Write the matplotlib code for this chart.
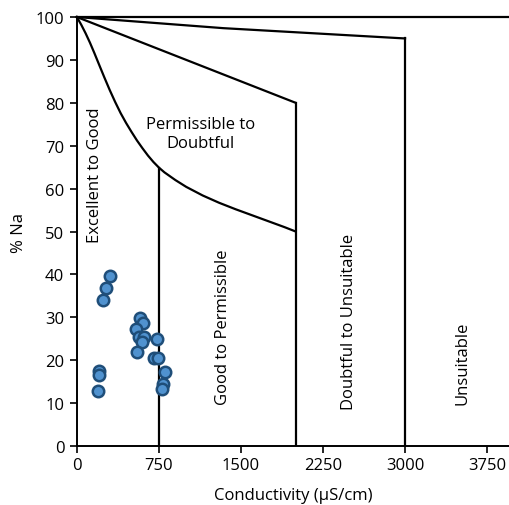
import matplotlib.pyplot as plt

# --- Daten ---
cond = [303, 263, 241, 202, 202, 190, 578, 608, 541, 571, 614, 593, 553,
        731, 706, 745, 807, 791, 782]
na = [39.7, 36.8, 34.0, 17.4, 16.5, 12.8, 29.8, 28.7, 27.3, 25.3, 25.3, 24.2,
      21.8, 24.9, 20.6, 20.6, 17.2, 14.5, 13.3]

# Grenzkurven (Wilcox-Diagramm)
curve1_x = [0, 40, 80, 120, 160, 200, 250, 300, 350, 400, 450, 500, 550, 600,
            650, 700, 750, 800, 900, 1000, 1150, 1300, 1450, 1600, 1750, 1900, 2000]
curve1_y = [100, 98.2, 96.2, 94.0, 91.6, 89.1, 86.0, 83.0, 80.2, 77.6, 75.3,
            73.2, 71.2, 69.4, 67.7, 66.2, 64.9, 63.8, 62.0, 60.4, 58.4, 56.7,
            55.2, 53.8, 52.4, 51.0, 50.0]
curve2_x = [0, 2000]
curve2_y = [100, 80]
curve3_x = [0, 1340, 3000]
curve3_y = [100, 97.4, 95]

xticks = [0, 750, 1500, 2250, 3000, 3750]
yticks = list(range(0, 101, 10))

plt.rcParams['font.family'] = ['Open Sans', 'DejaVu Sans']

fig = plt.figure(figsize=(5.09, 5.06), dpi=100)
ax = fig.add_axes([0.151, 0.1166, 0.849, 0.8478])

lw = 1.6
for cx, cy in [(curve1_x, curve1_y), (curve2_x, curve2_y), (curve3_x, curve3_y)]:
    ax.plot(cx, cy, color='black', lw=lw, clip_on=False, solid_joinstyle='round')
ax.plot([0, 4000], [100, 100], color='black', lw=lw, clip_on=False)
ax.plot([750, 750], [0, 64.9], color='black', lw=lw)
ax.plot([2000, 2000], [0, 80], color='black', lw=lw)
ax.plot([3000, 3000], [0, 95], color='black', lw=lw)

ax.scatter(cond, na, s=68, facecolor='#5092CF', edgecolor='#1F4E79',
           linewidth=1.8, zorder=5)

fs = 12
ax.text(165, 63.4, 'Excellent to Good', rotation=90, ha='center', va='center', fontsize=fs)
ax.text(1128, 72.8, 'Permissible to\nDoubtful', ha='center', va='center', fontsize=fs,
        linespacing=1.25)
ax.text(1336, 27.9, 'Good to Permissible', rotation=90, ha='center', va='center', fontsize=fs)
ax.text(2488, 29.2, 'Doubtful to Unsuitable', rotation=90, ha='center', va='center', fontsize=fs)
ax.text(3521, 19.4, 'Unsuitable', rotation=90, ha='center', va='center', fontsize=fs)

ax.set_xlim(0, 3950)
ax.set_ylim(0, 100)
ax.set_xticks(xticks)
ax.set_yticks(yticks)
ax.tick_params(direction='out', length=5, width=1.2, labelsize=12)
ax.tick_params(axis='y', pad=4)
ax.tick_params(axis='x', pad=3)
for s in ['top', 'right']:
    ax.spines[s].set_visible(False)
for s in ['left', 'bottom']:
    ax.spines[s].set_linewidth(1.4)
ax.set_xlabel('Conductivity (µS/cm)', fontsize=12, labelpad=10)
ax.set_ylabel('% Na', fontsize=12, labelpad=6)

fig.savefig('out.png', dpi=100)
